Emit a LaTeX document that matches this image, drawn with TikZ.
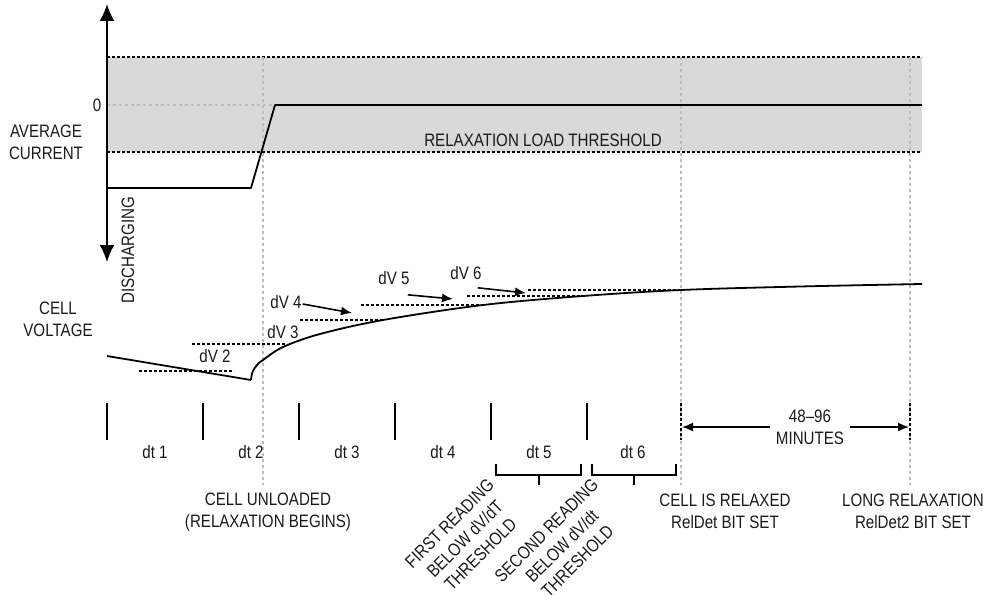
\documentclass[tikz,border=0pt]{standalone}
\usepackage{fontspec}
\setmainfont{Liberation Sans}[FakeStretch=0.84]
\usetikzlibrary{arrows.meta}
\definecolor{band}{HTML}{D9D9D9}
\definecolor{guide}{HTML}{BBBBBB}
\definecolor{ink}{HTML}{1A1A1A}
\tikzset{
  lbl/.style={inner sep=0pt, text=ink, font=\fontsize{18}{22}\selectfont, align=center},
  blackdash/.style={line width=1.3pt, dash pattern=on 3pt off 2pt},
  guidedash/.style={guide, line width=1.2pt, dash pattern=on 3pt off 3pt},
  curve/.style={line width=1.8pt, line join=round},
  tick/.style={line width=1.6pt},
  ptr/.style={line width=1.6pt, -{Latex[length=11pt,width=9pt]}},
}
\begin{document}
\begin{tikzpicture}[x=1pt,y=-1pt]
\useasboundingbox (0,0) rectangle (987,602);
% band
\fill[band] (107,57) rectangle (922,152);
\draw[blackdash] (107,57) -- (922,57);
\draw[blackdash] (107,152) -- (922,152);
% guides
\draw[guidedash] (107,105) -- (275,105);
\draw[guidedash] (263,57) -- (263,485);
\draw[guidedash] (681,57) -- (681,485);
\draw[guidedash] (910,57) -- (910,485);
% axis
\draw[line width=1.8pt, {Latex[length=17pt,width=15pt]}-{Latex[length=17pt,width=15pt]}] (107,4) -- (107,262);
% current
\draw[curve] (107,188) -- (251,188) -- (275,105) -- (922,105);
% labels top
\node[lbl] (zero) at (97,105) {0};
\node[lbl] (avg) at (46,142) {AVERAGE\\CURRENT};
\node[lbl, rotate=90] (dis) at (128,250) {DISCHARGING};
\node[lbl] (rlt) at (543,140) {RELAXATION LOAD THRESHOLD};
\node[lbl] (cv) at (58,319) {CELL\\VOLTAGE};
% voltage
\draw[curve] (107,356) -- (251,380);
\draw[curve] plot[smooth, tension=0.55] coordinates {(251,380) (252.5,372) (257,365) (263,360) (283,347) (320,334) (383,320) (483,305) (583,296) (681,290) (800,286.5) (922,284)};
% dV dashes
\draw[blackdash] (139,371) -- (234,371);
\draw[blackdash] (192,344) -- (287,344);
\draw[blackdash] (300,320) -- (383,320);
\draw[blackdash] (361,305) -- (485,305);
\draw[blackdash] (467,296) -- (583,296);
\draw[blackdash] (528,290) -- (681,290);
% dV labels
\node[lbl] (dv2) at (215,356) {dV 2};
\node[lbl] (dv3) at (283,332) {dV 3};
\node[lbl] (dv4) at (286,302) {dV 4};
\node[lbl] (dv5) at (394,278) {dV 5};
\node[lbl] (dv6) at (466,273) {dV 6};
\coordinate (t4) at (352,313);
\coordinate (t5) at (453,299);
\coordinate (t6) at (526,293);
\draw[ptr] (dv4.east) ++(1,2) -- (t4);
\draw[ptr] (dv5.south east) ++(-2,10) -- (t5);
\draw[ptr] (dv6.south east) ++(-4,8) -- (t6);
% ticks
\foreach \x in {107,203,299,395,491,587} \draw[tick] (\x,403) -- (\x,440);
\draw[line width=1.3pt, dash pattern=on 3pt off 2pt] (681,403) -- (681,440);
\draw[line width=1.3pt, dash pattern=on 3pt off 2pt] (910,403) -- (910,440);
\node[lbl] (dt1) at (155,452) {dt 1};
\node[lbl] (dt2) at (251,452) {dt 2};
\node[lbl] (dt3) at (347,452) {dt 3};
\node[lbl] (dt4) at (443,452) {dt 4};
\node[lbl] (dt5) at (539,452) {dt 5};
\node[lbl] (dt6) at (633,452) {dt 6};
% minutes
\node[lbl] (min) at (810,427) {48–96\\MINUTES};
\coordinate (mL) at (682,427);
\coordinate (mR) at (909,427);
\draw[ptr] (min.west) ++(-6,0) -- (mL);
\draw[ptr] (min.east) ++(6,0) -- (mR);
% brackets
\draw[tick] (496,464) -- (496,475) -- (581,475) -- (581,464);
\draw[tick] (539,475) -- (539,485);
\draw[tick] (592,464) -- (592,475) -- (676,475) -- (676,464);
\draw[tick] (634,475) -- (634,485);
% bottom labels
\node[lbl] (unl) at (268,512) {CELL UNLOADED\\(RELAXATION BEGINS)};
\node[lbl] (rel) at (725,511) {CELL IS RELAXED\\RelDet BIT SET};
\node[lbl] (lng) at (913,511) {LONG RELAXATION\\RelDet2 BIT SET};
\node[lbl, rotate=45] (first) at (465,539) {FIRST READING\\BELOW dV/dT\\THRESHOLD};
\node[lbl, rotate=45] (second) at (562,546) {SECOND READING\\BELOW dV/dt\\THRESHOLD};
\end{tikzpicture}
\end{document}
